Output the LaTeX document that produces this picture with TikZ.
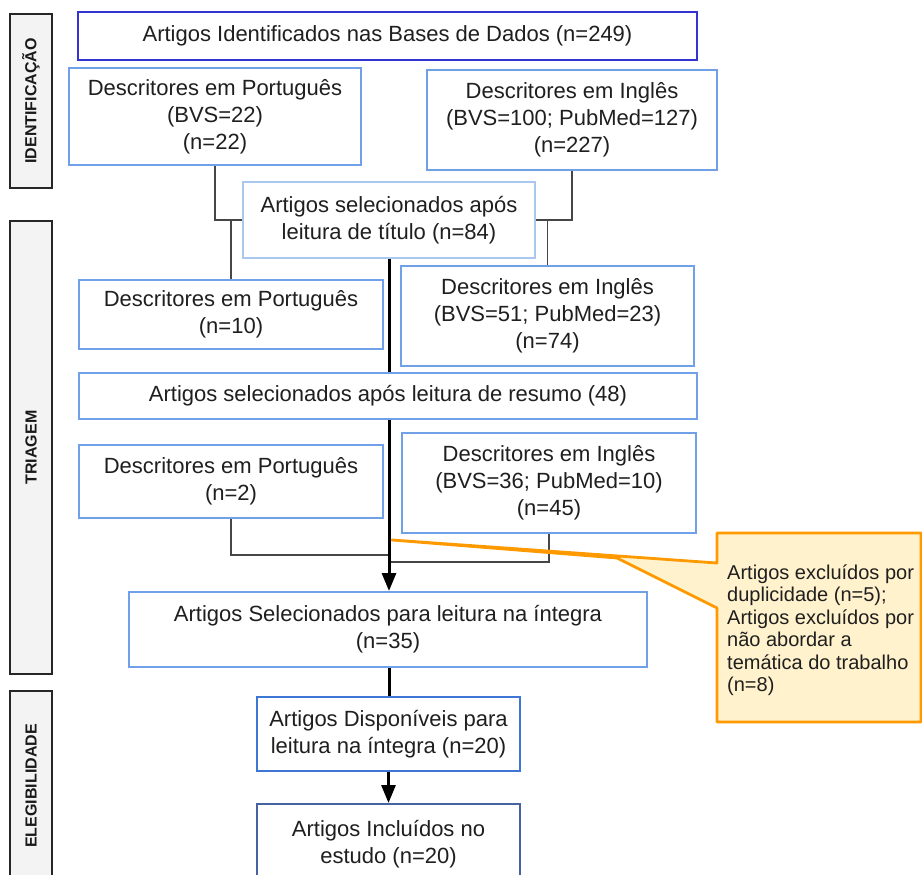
\documentclass[tikz,border=0pt]{standalone}
\usepackage{fontspec}
\setmainfont{Liberation Sans}
\usetikzlibrary{arrows.meta,calc}
\definecolor{azul}{RGB}{52,52,212}
\definecolor{azulcl}{RGB}{112,160,232}
\definecolor{azulpal}{RGB}{170,200,238}
\definecolor{azulmd}{RGB}{62,118,214}
\definecolor{azulesc}{RGB}{70,98,160}
\definecolor{cinza}{RGB}{243,243,243}
\definecolor{linha}{RGB}{70,70,70}
\definecolor{laranja}{RGB}{255,153,0}
\definecolor{creme}{RGB}{255,242,204}
\tikzset{>={Triangle[width=14pt,length=18pt]},
  cx/.style={draw=azulcl, line width=2pt, fill=white, align=center, inner sep=0pt, text=black!88, font=\fontsize{22}{27}\selectfont},
  fase/.style={draw=black!85, line width=1.2pt, fill=cinza, rotate=90, inner sep=0pt, minimum height=42pt, text=black!90, font=\bfseries\fontsize{16}{18}\selectfont},
  lig/.style={draw=linha, line width=1.2pt},
  flx/.style={draw=black, line width=3pt},
  aviso/.style={draw=laranja, fill=creme, line width=2.8pt, line join=round}}

\begin{document}
\begin{tikzpicture}[x=1pt, y=-1pt]
  \useasboundingbox (0,0) rectangle (922,875);
  \node[fase, minimum width=174pt] (idf) at (31,101) {IDENTIFICAÇÃO};
  \node[fase, minimum width=453pt] (tri) at (31,447.5) {TRIAGEM};
  \node[fase, minimum width=190pt] (ele) at (31,786) {ELEGIBILIDADE};

  \node[cx, draw=azul, minimum width=619pt, minimum height=48pt] (bases) at (387.5,36) {Artigos Identificados nas Bases de Dados (n=249)};
  \node[cx, minimum width=292pt, minimum height=97pt] (ptA) at (215,116.5) {Descritores em Português\\(BVS=22)\\(n=22)};
  \node[cx, minimum width=290pt, minimum height=100pt] (enA) at (572,120) {Descritores em Inglês\\(BVS=100; PubMed=127)\\(n=227)};
  \node[cx, draw=azulpal, minimum width=292pt, minimum height=76pt] (tit) at (389,220) {Artigos selecionados após\\leitura de título (n=84)};
  \node[cx, minimum width=304pt, minimum height=69pt] (ptB) at (231,314.5) {Descritores em Português\\(n=10)};
  \node[cx, minimum width=293pt, minimum height=100pt] (enB) at (547.5,316) {Descritores em Inglês\\(BVS=51; PubMed=23)\\(n=74)};
  \node[cx, minimum width=618pt, minimum height=46pt] (res) at (388,396) {Artigos selecionados após leitura de resumo (48)};
  \node[cx, minimum width=304pt, minimum height=73pt] (ptC) at (231,481.5) {Descritores em Português\\(n=2)};
  \node[cx, minimum width=294pt, minimum height=100pt] (enC) at (549,483) {Descritores em Inglês\\(BVS=36; PubMed=10)\\(n=45)};
  \node[cx, minimum width=518pt, minimum height=75pt] (integ) at (388,629.5) {Artigos Selecionados para leitura na íntegra\\(n=35)};
  \node[cx, draw=azulmd, minimum width=263pt, minimum height=74pt] (disp) at (388.5,734) {Artigos Disponíveis para\\leitura na íntegra (n=20)};
  \node[cx, draw=azulesc, minimum width=263pt, minimum height=80pt] (incl) at (388.5,844) {Artigos Incluídos no\\estudo (n=20)};

  \draw[lig] (ptA.south) |- (tit.west);
  \draw[lig] (enA.south) |- (tit.east);
  \draw[lig] (ptB.north |- tit.west) -- (ptB.north);
  \draw[lig] (enB.north |- tit.east) -- (enB.north);
  \coordinate (jE) at (389,555);
  \coordinate (jD) at (389,562);
  \draw[lig] (ptC.south) |- (jE);
  \draw[lig] (enC.south) |- (jD);

  \draw[flx] (tit.south) -- (tit.south |- res.north);
  \draw[flx, ->] (tit.south |- res.south) -- (tit.south |- integ.north);
  \draw[flx] (tit.south |- integ.south) -- (tit.south |- disp.north);
  \draw[flx, ->] (disp.south) -- (incl.north);

  \draw[aviso] (717,533) -- (717,563) -- (392,540) -- (617,558) -- (717,608) -- (717,722) -- (921,722) -- (921,533) -- cycle;
  \node[anchor=west, align=left, inner sep=0pt, text=black!88, font=\fontsize{20}{22.5}\selectfont] (nota) at (727,630) {Artigos excluídos por\\duplicidade (n=5);\\Artigos excluídos por\\não abordar a\\temática do trabalho\\(n=8)};
\end{tikzpicture}
\end{document}
